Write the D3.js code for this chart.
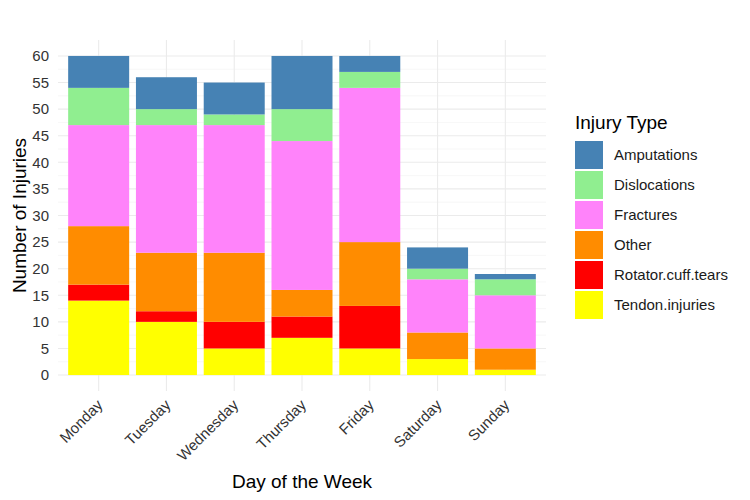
<!DOCTYPE html>
<html><head><meta charset="utf-8">
<script src="https://cdn.jsdelivr.net/npm/d3@7"></script>
<style>body{margin:0;background:#fff;} text{font-family:"Liberation Sans",Arial,sans-serif;}</style>
</head><body><svg id="c" width="750" height="500"></svg>
<script>
const days = ["Monday","Tuesday","Wednesday","Thursday","Friday","Saturday","Sunday"];
const injuryTypes = ["Amputations","Dislocations","Fractures","Other","Rotator.cuff.tears","Tendon.injuries"];
const amputations     = [6, 6, 6, 10, 3, 4, 1];
const dislocations    = [7, 3, 2, 6, 3, 2, 3];
const fractures       = [19, 24, 24, 28, 29, 10, 10];
const other           = [11, 11, 13, 5, 12, 5, 4];
const rotatorCuffTears= [3, 2, 5, 4, 8, 0, 0];
const tendonInjuries  = [14, 10, 5, 7, 5, 3, 1];
const yTicks = [0,5,10,15,20,25,30,35,40,45,50,55,60];
const colors = ["#4682B4","#90EE90","#FF83FA","#FF8C00","#FF0000","#FFFF00"];

const seriesVals = {"Amputations":amputations,"Dislocations":dislocations,"Fractures":fractures,
  "Other":other,"Rotator.cuff.tears":rotatorCuffTears,"Tendon.injuries":tendonInjuries};
const table = days.map((d,i)=>{const o={day:d}; injuryTypes.forEach(k=>o[k]=seriesVals[k][i]); return o;});
const stackOrder = injuryTypes.slice().reverse(); // Tendon at bottom
const stacked = d3.stack().keys(stackOrder)(table);
const color = d3.scaleOrdinal().domain(injuryTypes).range(colors);

const svg = d3.select("#c");
const L=58, R=546, T=40, B=391;
const x = d3.scaleBand().domain(days).range([L,R]).paddingInner(0.1).paddingOuter(0.15);
const y = d3.scaleLinear().domain([-3,63]).range([B,T]);

// grid
const g = svg.append("g");
d3.range(2.5,62.5,5).forEach(v=>g.append("line").attr("x1",L).attr("x2",R).attr("y1",y(v)).attr("y2",y(v)).attr("stroke","#F2F2F2").attr("stroke-width",0.6));
yTicks.forEach(v=>g.append("line").attr("x1",L).attr("x2",R).attr("y1",y(v)).attr("y2",y(v)).attr("stroke","#EBEBEB").attr("stroke-width",1.1));
days.forEach(d=>g.append("line").attr("x1",x(d)+x.bandwidth()/2).attr("x2",x(d)+x.bandwidth()/2).attr("y1",T).attr("y2",B).attr("stroke","#EBEBEB").attr("stroke-width",1.1));

// bars
svg.append("g").selectAll("g").data(stacked).join("g").attr("fill",s=>color(s.key))
 .selectAll("rect").data(s=>s).join("rect")
 .attr("x",d=>x(d.data.day)).attr("width",x.bandwidth())
 .attr("y",d=>y(d[1])).attr("height",d=>Math.max(0,y(d[0])-y(d[1])));

// y axis
const ya = svg.append("g").attr("transform",`translate(${L},0)`).call(d3.axisLeft(y).tickValues(yTicks).tickSize(0).tickPadding(9));
ya.select(".domain").remove();
ya.selectAll("text").attr("font-size",15).attr("fill","#333").style("font-family","Liberation Sans, Arial, sans-serif");

// x axis
const xa = svg.append("g").attr("transform",`translate(0,${B})`).call(d3.axisBottom(x).tickSize(0).tickPadding(0));
xa.select(".domain").remove();
xa.selectAll("text").attr("font-size",15).attr("fill","#333").style("font-family","Liberation Sans, Arial, sans-serif")
  .attr("text-anchor","end").attr("dy",null).attr("y",0)
  .attr("transform","translate(5,15) rotate(-45)");

// titles
svg.append("text").attr("x",(L+R)/2).attr("y",488).attr("text-anchor","middle").attr("font-size",19).text("Day of the Week");
svg.append("text").attr("transform",`translate(26,${(T+B)/2}) rotate(-90)`).attr("text-anchor","middle").attr("font-size",19).text("Number of Injuries");

// legend
const lg = svg.append("g").attr("transform","translate(575,0)");
lg.append("text").attr("x",0).attr("y",129).attr("font-size",19).text("Injury Type");
injuryTypes.forEach((k,i)=>{
  const yy = 141 + i*30;
  lg.append("rect").attr("x",0).attr("y",yy).attr("width",28).attr("height",28).attr("fill",color(k));
  lg.append("text").attr("x",39).attr("y",yy+14).attr("dy","0.35em").attr("font-size",15).attr("fill","#1a1a1a").text(k);
});
</script></body></html>
